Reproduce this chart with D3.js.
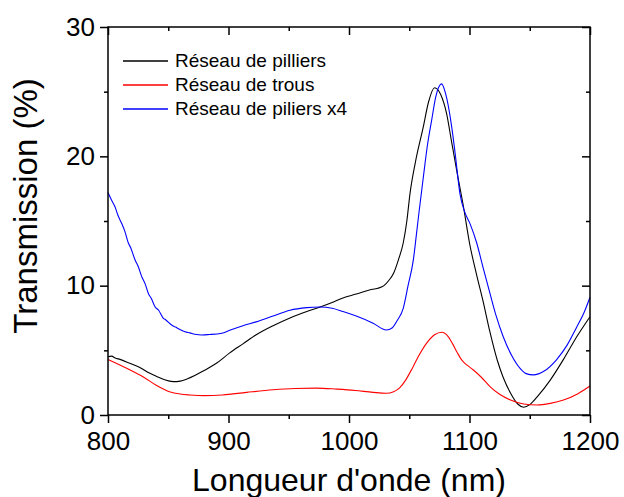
<!DOCTYPE html>
<html>
<head>
<meta charset="utf-8">
<script src="https://cdn.jsdelivr.net/npm/d3@7"></script>
<style>
  body { margin: 0; background: #fff; }
  svg { display: block; font-family: "Liberation Sans", Arial, sans-serif; }
</style>
</head>
<body>
<div id="chart"></div>
<script>
// Transmission spectra

const xTicks = [800, 900, 1000, 1100, 1200];
const xMinor = [850, 950, 1050, 1150];
const yTicks = [0, 10, 20, 30];
const yMinor = [5, 15, 25];

const seriesNames = ['Réseau de pilliers', 'Réseau de trous', 'Réseau de piliers x4'];
const seriesColors = ['#000000', '#ff0000', '#0000ff'];

// [wavelength nm, transmission %]
const piliers = [
  [800, 4.5], [803, 4.55], [806, 4.4], [810, 4.3], [818, 4.0], [826, 3.7], [833, 3.3], [840, 3.0],
  [847, 2.72], [854, 2.58], [860, 2.62], [866, 2.8], [872, 3.05], [879, 3.4], [890, 4.0], [901, 4.8],
  [912, 5.5], [923, 6.2], [937, 6.9], [951, 7.5], [965, 8.0], [976, 8.35], [986, 8.7], [995, 9.05],
  [1006, 9.35], [1017, 9.67], [1024, 9.8], [1029, 10.0], [1033, 10.4], [1037, 10.96], [1041, 12.0],
  [1045, 13.3], [1048, 15.0], [1050.6, 17.1], [1055, 19.5], [1061.7, 22.3], [1066, 24.2],
  [1071, 25.3], [1076, 24.8], [1081, 23.3], [1085, 21.2], [1089.4, 18.9], [1095, 16.1],
  [1100, 13.3], [1106, 10.8], [1111, 8.9], [1117, 6.4], [1123, 4.25], [1128, 2.9], [1134, 1.7],
  [1140, 0.85], [1145, 0.6], [1150, 0.8], [1157, 1.5], [1167, 2.7], [1178, 4.3], [1189, 6.05],
  [1200, 7.6]
];

const trous = [
  [800, 4.3], [809, 3.9], [818, 3.5], [830, 2.9], [840, 2.3], [851, 1.8], [860, 1.62], [868, 1.55],
  [880, 1.5], [895, 1.55], [915, 1.75], [937, 1.95], [955, 2.05], [973, 2.08], [990, 2.0],
  [1005, 1.9], [1020, 1.75], [1031, 1.68], [1037, 1.8], [1042, 2.1], [1047, 2.7], [1053, 3.7],
  [1058, 4.6], [1064, 5.5], [1071, 6.2], [1077, 6.4], [1082, 6.1], [1086, 5.5], [1090, 4.8],
  [1094, 4.2], [1098, 3.85], [1103, 3.5], [1110, 2.9], [1117, 2.2], [1125, 1.6], [1134, 1.16],
  [1145, 0.85], [1156, 0.77], [1167, 0.9], [1178, 1.16], [1190, 1.65], [1200, 2.24]
];

const piliersX4 = [
  [800, 17.2], [803, 16.6], [805.8, 16.1], [808, 15.5], [811.4, 14.8], [814, 14.2], [816.9, 13.3],
  [819, 12.9], [822.4, 12.0], [825, 11.5], [828, 10.7], [831, 10.1], [833.5, 9.4], [836, 9.0],
  [839, 8.37], [842, 8.1], [845.9, 7.48], [848, 7.35], [852.8, 6.96], [856, 6.8], [860, 6.6],
  [863.9, 6.44], [868, 6.35], [872, 6.25], [877.8, 6.19], [884, 6.22], [894.4, 6.32], [901, 6.55],
  [912, 6.9], [923, 7.2], [937, 7.65], [951, 8.1], [965, 8.3], [976, 8.35], [986, 8.25], [995, 8.0],
  [1006, 7.65], [1020, 7.1], [1031, 6.57], [1036, 6.75], [1040, 7.3], [1045, 8.25], [1049, 10.0],
  [1053.4, 12.0], [1056, 14.0], [1058, 15.6], [1061.7, 18.4], [1065, 20.8], [1068.6, 22.8],
  [1072, 24.6], [1076.9, 25.6], [1080, 24.9], [1085.2, 22.3], [1088, 20.3], [1092.1, 17.1],
  [1096, 15.7], [1100.4, 14.8], [1106, 13.3], [1111, 11.5], [1117, 9.4], [1122, 7.7], [1128, 6.05],
  [1135, 4.6], [1142, 3.6], [1147, 3.2], [1153, 3.1], [1162, 3.4], [1172, 4.25], [1181, 5.4],
  [1189, 6.8], [1195, 7.9], [1200, 9.1]
];

const allSeries = [piliers, trous, piliersX4];

const W = 624, H = 497;
const margin = { top: 27, right: 34, bottom: 82, left: 108 };
const width = W - margin.left - margin.right;
const height = H - margin.top - margin.bottom;

const svg = d3.select('#chart').append('svg')
  .attr('width', W)
  .attr('height', H);

const g = svg.append('g')
  .attr('transform', `translate(${margin.left},${margin.top})`);

const x = d3.scaleLinear().domain([800, 1200]).range([0, width]);
const y = d3.scaleLinear().domain([0, 30]).range([height, 0]);

// curves
const line = d3.line()
  .x(d => x(d[0]))
  .y(d => y(d[1]))
  .curve(d3.curveMonotoneX);

allSeries.forEach((s, i) => {
  g.append('path')
    .datum(s)
    .attr('fill', 'none')
    .attr('stroke', seriesColors[i])
    .attr('stroke-width', 1.1)
    .attr('d', line);
});

// axes helpers
function styleAxis(sel) {
  sel.select('.domain').remove();
  sel.selectAll('line').attr('stroke', '#000').attr('stroke-width', 1.5);
  sel.selectAll('text').attr('fill', '#000').attr('font-size', '26px');
}

// bottom (outward ticks + labels)
g.append('g')
  .attr('transform', `translate(0,${height})`)
  .call(d3.axisBottom(x).tickValues(xTicks).tickSize(8).tickPadding(9).tickFormat(d3.format('d')))
  .call(styleAxis);
g.append('g')
  .attr('transform', `translate(0,${height})`)
  .call(d3.axisBottom(x).tickValues(xMinor).tickSize(4).tickFormat(''))
  .call(styleAxis);

// left
g.append('g')
  .call(d3.axisLeft(y).tickValues(yTicks).tickSize(8).tickPadding(5).tickFormat(d3.format('d')))
  .call(styleAxis);
g.append('g')
  .call(d3.axisLeft(y).tickValues(yMinor).tickSize(4).tickFormat(''))
  .call(styleAxis);

// top and right mirror ticks (inward)
g.append('g')
  .call(d3.axisBottom(x).tickValues(xTicks).tickSize(8).tickFormat(''))
  .call(styleAxis);
g.append('g')
  .call(d3.axisBottom(x).tickValues(xMinor).tickSize(4).tickFormat(''))
  .call(styleAxis);
g.append('g')
  .attr('transform', `translate(${width},0)`)
  .call(d3.axisLeft(y).tickValues(yTicks).tickSize(8).tickFormat(''))
  .call(styleAxis);
g.append('g')
  .attr('transform', `translate(${width},0)`)
  .call(d3.axisLeft(y).tickValues(yMinor).tickSize(4).tickFormat(''))
  .call(styleAxis);

// frame
g.append('rect')
  .attr('width', width)
  .attr('height', height)
  .attr('fill', 'none')
  .attr('stroke', '#000')
  .attr('stroke-width', 1.5);

// axis titles
svg.append('text')
  .attr('x', margin.left + width / 2)
  .attr('y', 491)
  .attr('text-anchor', 'middle')
  .attr('font-size', '32px')
  .text("Longueur d'onde (nm)");

svg.append('text')
  .attr('transform', `translate(37,${margin.top + height / 2 - 15}) rotate(-90)`)
  .attr('text-anchor', 'middle')
  .attr('font-size', '33px')
  .text('Transmission (%)');

// legend
const legend = svg.append('g').attr('transform', 'translate(123,67)');
seriesNames.forEach((name, i) => {
  const row = legend.append('g').attr('transform', `translate(0,${i * 24})`);
  row.append('line')
    .attr('x1', 0).attr('x2', 45)
    .attr('y1', -6).attr('y2', -6)
    .attr('stroke', seriesColors[i])
    .attr('stroke-width', 1.6);
  row.append('text')
    .attr('x', 52)
    .attr('y', 0)
    .attr('font-size', '19px')
    .text(name);
});
</script>
</body>
</html>
